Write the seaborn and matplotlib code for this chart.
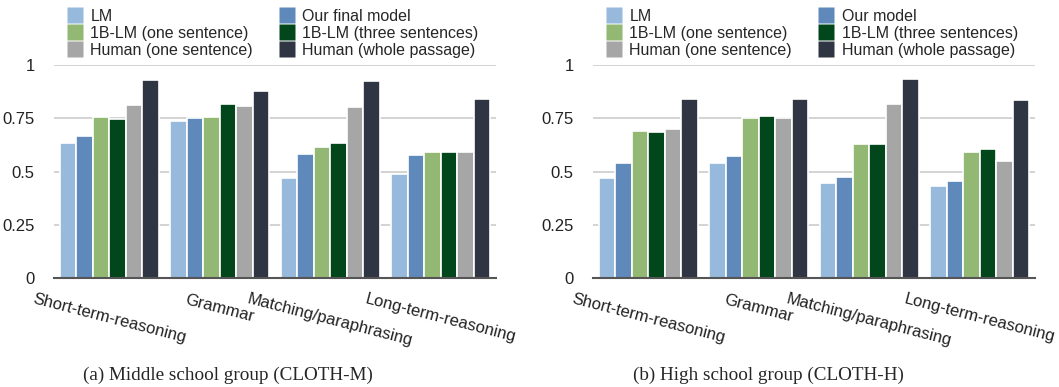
import matplotlib
matplotlib.use("Agg")
import matplotlib.pyplot as plt
import seaborn as sns
import pandas as pd
from matplotlib.lines import Line2D

categories = ["Short-term-reasoning", "Grammar", "Matching/paraphrasing", "Long-term-reasoning"]
series_m = ["LM", "Our final model", "1B-LM (one sentence)", "1B-LM (three sentences)",
            "Human (one sentence)", "Human (whole passage)"]
series_h = ["LM", "Our model", "1B-LM (one sentence)", "1B-LM (three sentences)",
            "Human (one sentence)", "Human (whole passage)"]

# values per series, across categories
m_lm = [0.635, 0.739, 0.471, 0.490]
m_our = [0.668, 0.750, 0.584, 0.579]
m_1b_one = [0.757, 0.757, 0.617, 0.593]
m_1b_three = [0.745, 0.818, 0.635, 0.593]
m_h_one = [0.814, 0.809, 0.804, 0.593]
m_h_whole = [0.931, 0.879, 0.926, 0.842]

h_lm = [0.471, 0.541, 0.448, 0.433]
h_our = [0.541, 0.574, 0.476, 0.457]
h_1b_one = [0.692, 0.753, 0.631, 0.593]
h_1b_three = [0.687, 0.762, 0.631, 0.607]
h_h_one = [0.701, 0.753, 0.818, 0.551]
h_h_whole = [0.842, 0.842, 0.936, 0.837]

yticks = [0, 0.25, 0.5, 0.75, 1]
ytick_labels = ["0", "0.25", "0.5", "0.75", "1"]
captions = ["(a) Middle school group (CLOTH-M)", "(b) High school group (CLOTH-H)"]

colors = ["#97b9dc", "#5f88bb", "#93b873", "#02461b", "#a6a6a6", "#2f3542"]

sns.set_theme(style="white")
plt.rcParams["font.family"] = ["Liberation Sans", "DejaVu Sans"]

W, H = 1059, 387
fig = plt.figure(figsize=(W / 100, H / 100), dpi=100)

panels = [
    (54, series_m, [m_lm, m_our, m_1b_one, m_1b_three, m_h_one, m_h_whole], captions[0], 228),
    (593, series_h, [h_lm, h_our, h_1b_one, h_1b_three, h_h_one, h_h_whole], captions[1], 768),
]

for left_px, names, vals, cap, cap_x in panels:
    ax = fig.add_axes([left_px / W, 1 - 278 / H, 442 / W, 213 / H])
    rows = []
    for name, v in zip(names, vals):
        for c, val in zip(categories, v):
            rows.append({"category": c, "model": name, "value": val})
    df = pd.DataFrame(rows)
    sns.barplot(data=df, x="category", y="value", hue="model", order=categories,
                hue_order=names, palette=colors, width=0.9, ax=ax,
                edgecolor="white", linewidth=1.2, saturation=1, legend=False, zorder=3)
    ax.set_ylim(0, 1)
    ax.set_xlim(-0.5, 3.5)
    ax.set_yticks(yticks)
    ax.set_yticklabels(ytick_labels, fontsize=12, color="#222222")
    ax.yaxis.grid(True, color="#cccccc", linewidth=1.2, zorder=0)
    ax.xaxis.grid(False)
    ax.set_axisbelow(True)
    for s in ["left", "right", "top"]:
        ax.spines[s].set_visible(False)
    ax.spines["bottom"].set_color("#555555")
    ax.spines["bottom"].set_linewidth(1.5)
    ax.spines["bottom"].set_zorder(5)
    ax.tick_params(axis="y", length=0, pad=14)
    ax.tick_params(axis="x", length=0, pad=10)
    ax.set_xticks(range(len(categories)))
    ax.set_xticklabels(categories, rotation=-14.5, ha="center", va="top", fontsize=12,
                       color="#222222")
    ax.set_xlabel("")
    ax.set_ylabel("")

    order = [0, 2, 4, 1, 3, 5]
    handles = [Line2D([], [], linestyle="none", marker="s", markersize=12,
                      markerfacecolor=colors[i], markeredgecolor="none") for i in order]
    labels = [names[i] for i in order]
    ax.legend(handles, labels, ncol=2, loc="lower left",
              bbox_to_anchor=(14 / 442, 1.0 + 7 / 213),
              frameon=False, fontsize=11.5, handlelength=0.9,
              handletextpad=0.5, columnspacing=1.7, labelspacing=0.13,
              borderaxespad=0.0, borderpad=0.0)

    fig.text(cap_x / W, 1 - 375 / H, cap, ha="center", va="center",
             fontsize=13.8, family="Liberation Serif")

fig.savefig("out.png", dpi=100)
